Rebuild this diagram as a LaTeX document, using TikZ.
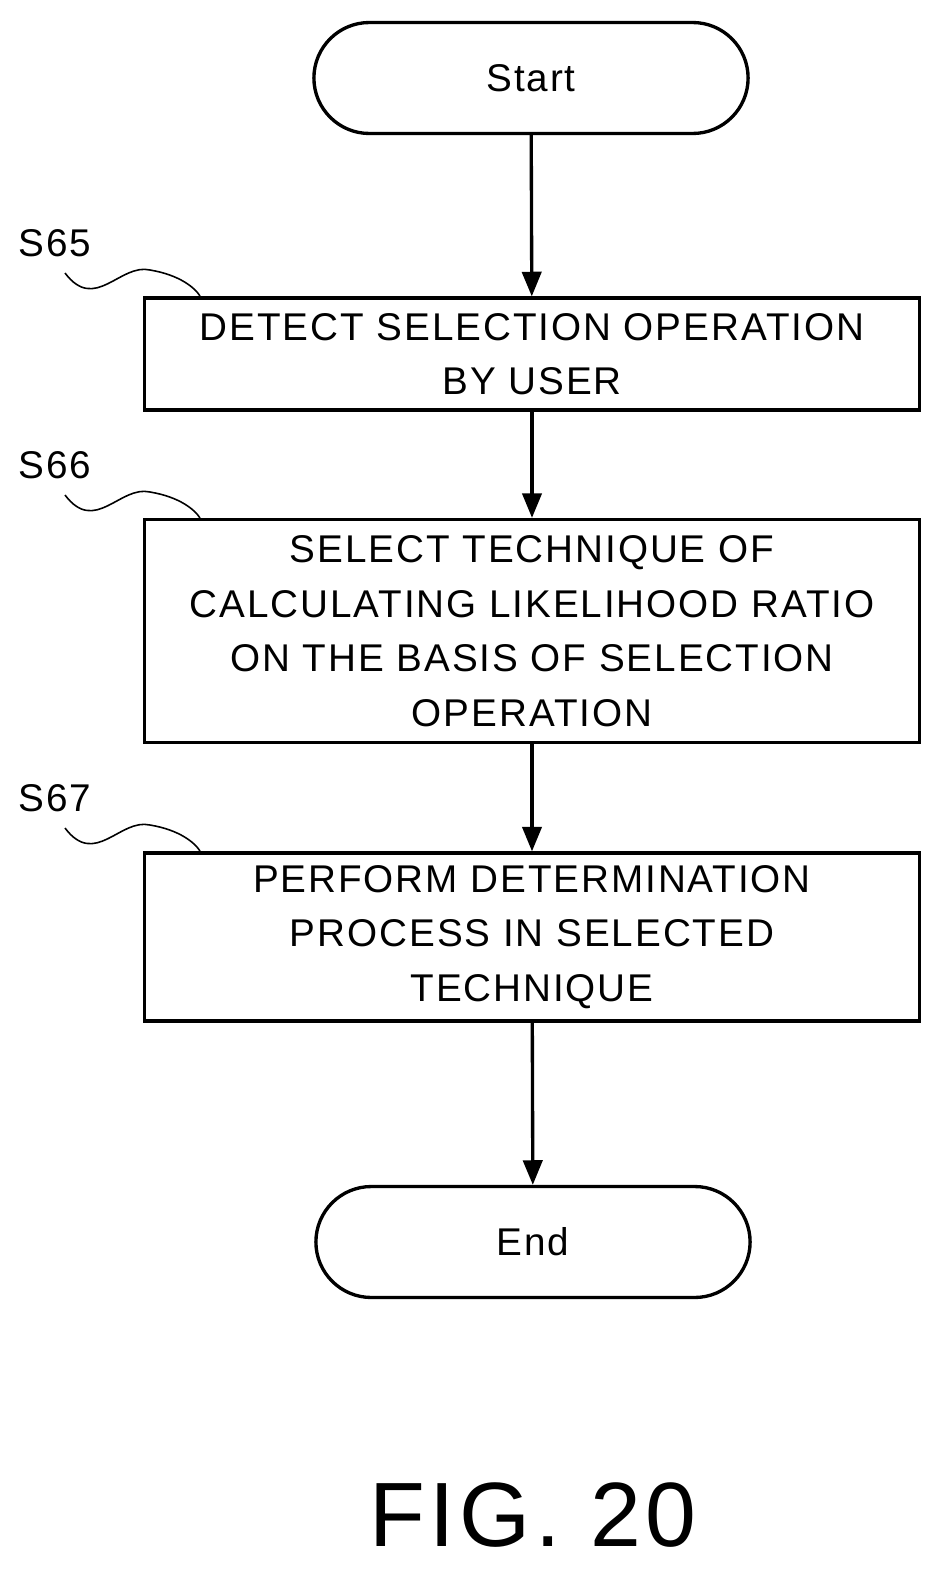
\documentclass[tikz,border=0pt]{standalone}
\usepackage{fontspec}
\setmainfont{Liberation Sans}[LetterSpace=5]
\usetikzlibrary{positioning,arrows.meta,shapes.misc}

\tikzset{
	stepbox/.style={draw, line width=1.9pt, minimum width=15.5cm, align=center,
		font=\fontsize{22}{31}\selectfont, inner sep=0pt},
	term/.style={draw, line width=1.9pt, rounded rectangle, minimum width=8.92cm,
		minimum height=2.22cm, font=\fontsize{22}{26}\selectfont},
	flow/.style={-{Triangle[length=14pt,width=11pt]}, line width=1.9pt},
	steplabel/.style={font=\fontsize{22}{26}\selectfont},
	squig/.style={line width=0.9pt}
}

\begin{document}
\begin{tikzpicture}[x=0.02cm, y=-0.02cm]
	\useasboundingbox (0,0) rectangle (951,1582);

	% terminals
	\node[term] (start) at (531,78) {Start};
	\node[term] (end) at (533,1242) {End};

	% steps
	\node[stepbox, minimum height=2.24cm] (s65) at (532,354)
		{DETECT SELECTION OPERATION\\BY USER};
	\node[stepbox, minimum height=4.46cm] (s66) at (532,631)
		{SELECT TECHNIQUE OF\\CALCULATING LIKELIHOOD RATIO\\ON THE BASIS OF SELECTION\\OPERATION};
	\node[stepbox, minimum height=3.36cm] (s67) at (532,937)
		{PERFORM DETERMINATION\\PROCESS IN SELECTED\\TECHNIQUE};

	% step labels
	\foreach \s/\y in {65/243, 66/465, 67/798}{
		\node[steplabel] (l\s) at (55,\y) {S\s};
		\draw[squig] (65,\y+30) .. controls (95,\y+70) and (120,\y+20) .. (150,\y+27)
			.. controls (180,\y+32) and (195,\y+45) .. (200,\y+53);
	}

	% arrows
	\draw[flow] (start) -- (s65);
	\draw[flow] (s65) -- (s66);
	\draw[flow] (s66) -- (s67);
	\draw[flow] (s67) -- (end);

	\node[font=\fontsize{52}{60}\selectfont] (fig) at (533,1515) {FIG. 20};
\end{tikzpicture}
\end{document}
